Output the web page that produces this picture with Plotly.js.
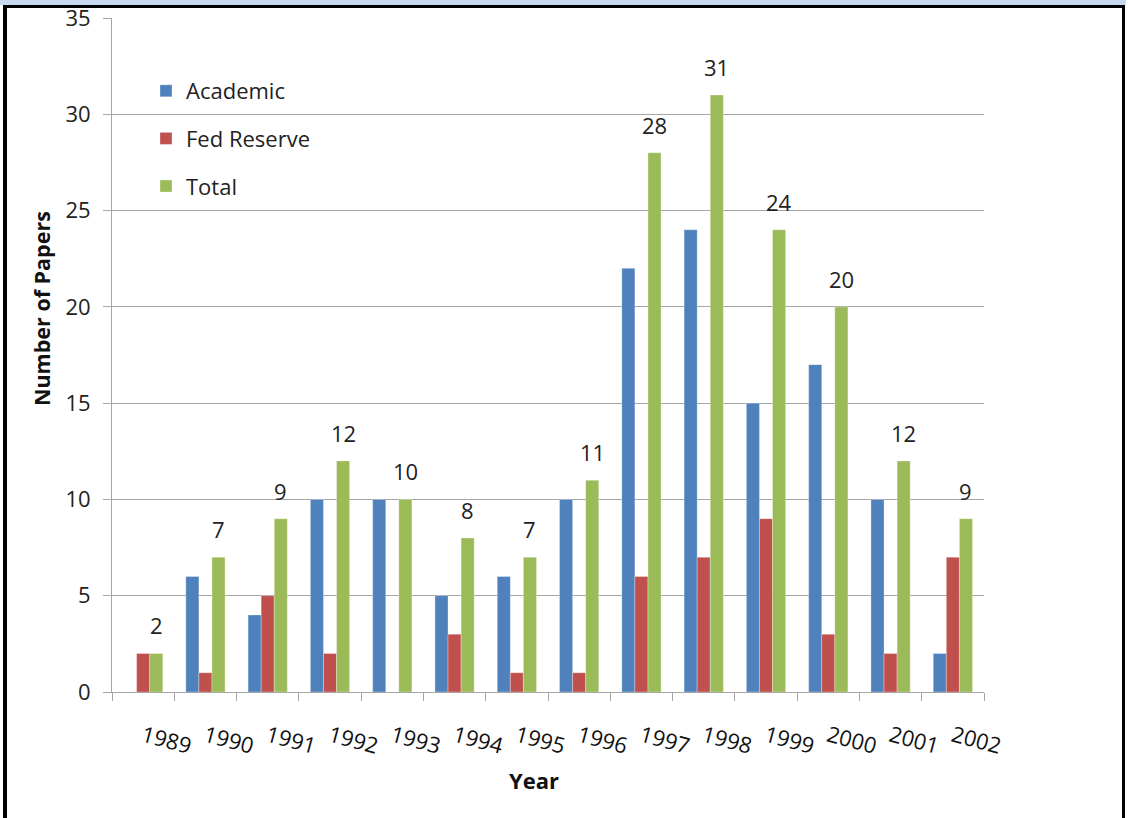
<!DOCTYPE html>
<html>
<head>
<meta charset="utf-8">
<script src="https://cdn.plot.ly/plotly-3.0.1.min.js"></script>
<style>
  html, body { margin: 0; padding: 0; background: #fff; }
  #wrap { position: relative; width: 1128px; height: 818px; overflow: hidden; }
  #chart { position: absolute; left: 0; top: 0; width: 1128px; height: 818px; }
  .frame { position: absolute; pointer-events: none; }
</style>
</head>
<body>
<div id="wrap">
  <div id="chart"></div>
  <div class="frame" style="left:0;top:0;width:1126px;height:5px;background:#c6d9f1;"></div>
  <div class="frame" style="left:3px;top:5px;width:1122px;height:3px;background:#000;"></div>
  <div class="frame" style="left:3px;top:5px;width:4px;height:813px;background:#000;"></div>
  <div class="frame" style="left:1122px;top:5px;width:3px;height:813px;background:#000;"></div>
</div>
<script>
const years = ['1989','1990','1991','1992','1993','1994','1995','1996','1997','1998','1999','2000','2001','2002'];
const academic = [0, 6, 4, 10, 10, 5, 6, 10, 22, 24, 15, 17, 10, 2];
const fedReserve = [2, 1, 5, 2, 0, 3, 1, 1, 6, 7, 9, 3, 2, 7];
const total = [2, 7, 9, 12, 10, 8, 7, 11, 28, 31, 24, 20, 12, 9];
const yTicks = [0, 5, 10, 15, 20, 25, 30, 35];

const FONT = 'Open Sans, Noto Sans, sans-serif';
const barLine = { color: 'rgba(255,255,255,0.6)', width: 0.5 };

const traces = [
  { type: 'bar', name: 'Academic', x: years, y: academic, legendgroup: 'a',
    marker: { color: '#4f81bd', line: barLine } },
  { type: 'bar', name: 'Fed Reserve', x: years, y: fedReserve, legendgroup: 'b',
    marker: { color: '#c0504d', line: barLine } },
  { type: 'bar', name: 'Total', x: years, y: total, legendgroup: 'c',
    marker: { color: '#9bbb59', line: barLine } }
];

const annotations = years.map((yr, i) => ({
  x: i, y: total[i], xref: 'x', yref: 'y',
  text: String(total[i]), showarrow: false,
  xanchor: 'center', yanchor: 'bottom',
  xshift: 13, yshift: 11,
  font: { family: FONT, size: 22, color: '#222' }
}));

annotations.push({
  xref: 'paper', yref: 'paper', x: (41 - 112) / 872, y: (692 - 309) / 674,
  xanchor: 'center', yanchor: 'middle', textangle: -90, showarrow: false,
  text: '<b>Number of Papers</b>',
  font: { family: FONT, size: 21.5, color: '#111' }
});
annotations.push({
  xref: 'paper', yref: 'paper', x: (534 - 112) / 872, y: (692 - 780) / 674,
  xanchor: 'center', yanchor: 'middle', showarrow: false,
  text: '<b>Year</b>',
  font: { family: FONT, size: 22, color: '#111' }
});

const layout = {
  width: 1128, height: 818,
  margin: { l: 112, r: 144, t: 18, b: 126 },
  paper_bgcolor: '#fff', plot_bgcolor: '#fff',
  font: { family: FONT, size: 22, color: '#222' },
  barmode: 'group', bargap: 0.37, bargroupgap: 0,
  showlegend: true,
  legend: {
    x: (146 - 112) / 872, y: (692 - 70) / 674, xanchor: 'left', yanchor: 'top',
    bgcolor: 'rgba(0,0,0,0)', font: { family: FONT, size: 22, color: '#222' },
    tracegroupgap: 16, traceorder: 'grouped'
  },
  xaxis: {
    type: 'category', tickson: 'boundaries', range: [-0.5, 13.5],
    showline: true, linecolor: '#a6a6a6', linewidth: 1,
    ticks: 'outside', ticklen: 8, tickcolor: '#a6a6a6',
    showgrid: false, tickangle: 15, ticklabelstandoff: 22,
    tickfont: { family: FONT, size: 22, color: '#111' },
    fixedrange: true
  },
  yaxis: {
    range: [0, 35], tickvals: yTicks, ticktext: yTicks.map(String),
    showline: true, linecolor: '#a6a6a6', linewidth: 1,
    ticks: 'outside', ticklen: 8, tickcolor: '#a6a6a6',
    showgrid: true, gridcolor: '#a6a6a6', gridwidth: 1,
    zeroline: false, ticklabelstandoff: 8,
    tickfont: { family: FONT, size: 22, color: '#222' },
    fixedrange: true
  },
  annotations: annotations
};

Plotly.newPlot('chart', traces, layout, { displayModeBar: false, staticPlot: true });
</script>
</body>
</html>
